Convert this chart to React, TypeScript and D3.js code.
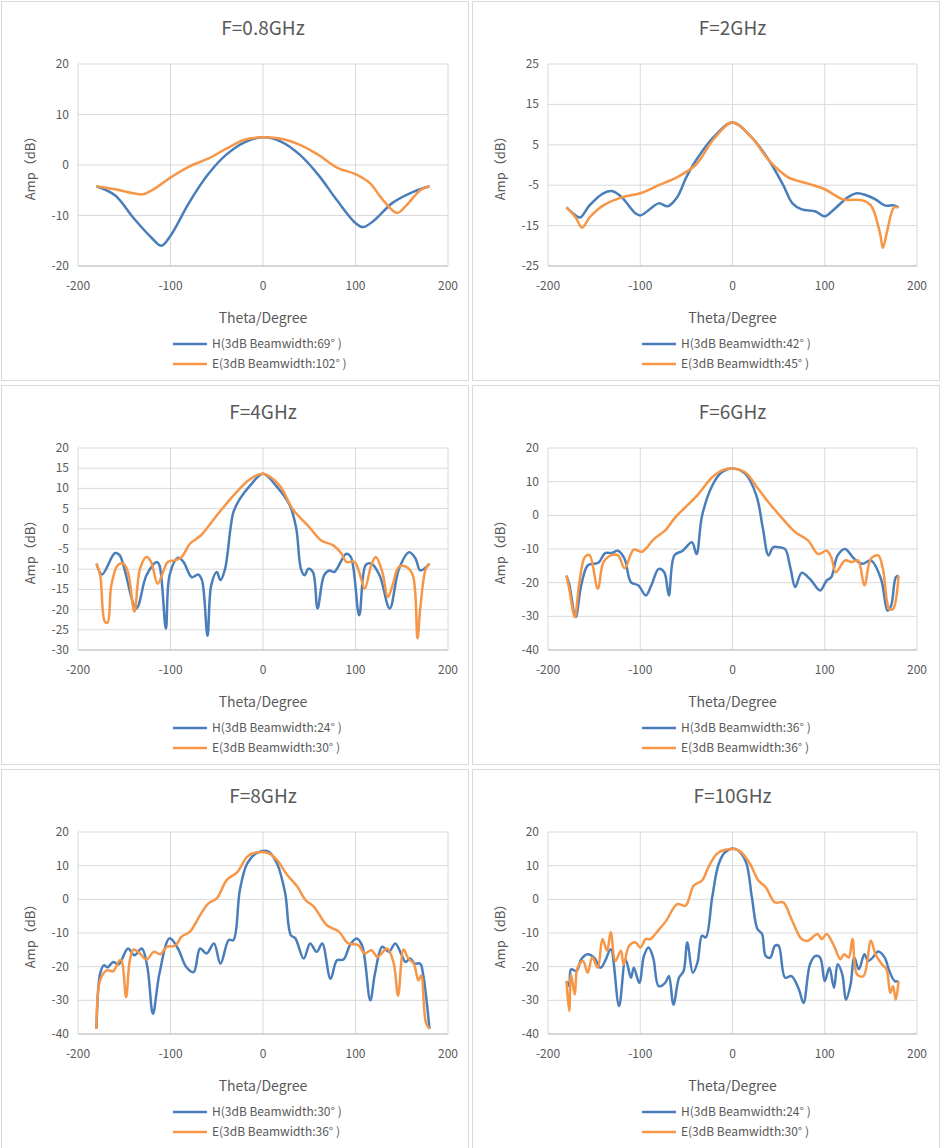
import * as d3 from 'd3'

type P = [number, number]

const titles = ['F=0.8GHz', 'F=2GHz', 'F=4GHz', 'F=6GHz', 'F=8GHz', 'F=10GHz']
const hWidths = [69, 42, 24, 36, 30, 24]
const eWidths = [102, 45, 30, 36, 36, 30]
const yDomains: P[] = [[-20, 20], [-25, 25], [-30, 20], [-40, 20], [-40, 20], [-40, 20]]
const yTicks = [
  [-20, -10, 0, 10, 20],
  [-25, -15, -5, 5, 15, 25],
  [-30, -25, -20, -15, -10, -5, 0, 5, 10, 15, 20],
  [-40, -30, -20, -10, 0, 10, 20],
  [-40, -30, -20, -10, 0, 10, 20],
  [-40, -30, -20, -10, 0, 10, 20],
]
const xTicks = [-200, -100, 0, 100, 200]

const h08: P[] = [[-180,-4.2],[-160,-6],[-140,-10.5],[-120,-14.5],[-110,-16],[-100,-14],[-80,-7.5],[-60,-2],[-40,2],[-20,4.5],[0,5.5],[20,4.6],[40,2],[60,-2],[80,-7],[100,-11.5],[108,-12.3],[120,-11],[140,-7.5],[160,-5.5],[180,-4.2]]
const e08: P[] = [[-180,-4.2],[-160,-4.8],[-140,-5.6],[-130,-5.8],[-120,-5],[-100,-2.5],[-80,-0.3],[-60,1.2],[-40,3.2],[-20,5],[0,5.5],[20,5.2],[40,4],[60,2],[80,-0.5],[100,-1.8],[115,-3.5],[130,-7],[145,-9.5],[155,-8],[170,-5],[180,-4.2]]

const h2: P[] = [[-180,-10.5],[-170,-12.5],[-165,-13],[-155,-10],[-140,-7],[-130,-6.5],[-120,-8],[-105,-12],[-100,-12.5],[-90,-11],[-80,-9.5],[-70,-10.2],[-60,-8],[-50,-3],[-40,1],[-20,7],[0,10.5],[20,7],[40,1],[55,-5],[65,-9.5],[75,-11],[90,-11.5],[100,-12.7],[110,-11],[125,-8],[135,-7],[145,-7.5],[155,-8.5],[165,-10],[175,-10],[180,-10.5]]
const e2: P[] = [[-180,-10.5],[-170,-13],[-163,-15.5],[-155,-13],[-140,-10],[-120,-8],[-100,-7],[-80,-5],[-60,-3],[-40,0],[-20,6.5],[0,10.5],[20,7],[40,1],[60,-3],[80,-4.5],[100,-6],[120,-8.5],[140,-8.7],[150,-10],[160,-17],[163,-20.5],[168,-16],[175,-10.5],[180,-10.5]]

const h4: P[] = [[-180,-8.6],[-174,-11.3],[-160,-6],[-155,-6.5],[-137,-19.7],[-126,-11.5],[-115,-8.2],[-112,-9],[-105,-24.7],[-101,-11.5],[-92,-7.2],[-86,-8.2],[-77,-12],[-70,-11.3],[-66,-12.7],[-60,-26.5],[-56,-14],[-50,-10.7],[-46,-12.7],[-41,-9.9],[-32,4.1],[-25,7.4],[-14,10.7],[0,13.6],[14,10.7],[29,5.8],[36,0],[41,-9.9],[45,-11.5],[49,-9.9],[54,-10.7],[59,-19.7],[66,-11.5],[72,-10.3],[77,-10.7],[90,-6.2],[95,-7],[104,-21.4],[111,-9],[117,-8.6],[126,-11.5],[137,-19.7],[147,-9.9],[158,-5.8],[165,-7.4],[170,-10.3],[180,-8.6]]
const e4: P[] = [[-180,-8.6],[-176,-11.5],[-171,-23],[-168,-23.2],[-164,-14],[-157,-9],[-151,-8.6],[-146,-10.7],[-139,-20.5],[-133,-9.9],[-126,-7],[-121,-8.2],[-114,-13.6],[-108,-10.7],[-103,-8.2],[-95,-7.8],[-88,-7],[-79,-3.7],[-67,-1.6],[-50,3.3],[-32,8.2],[-14,12.3],[0,13.6],[18,10.7],[32,4.9],[50,0.4],[63,-2.9],[76,-4.1],[85,-6.2],[90,-8.2],[99,-8.2],[104,-10.7],[110,-14.8],[117,-9],[122,-7],[129,-10.7],[135,-16.9],[140,-14],[147,-9.4],[155,-9.4],[162,-11.5],[167,-27.1],[170,-19.7],[176,-9.9],[180,-8.6]]

const h6: P[] = [[-180,-17.9],[-177,-20.4],[-170,-30.2],[-164,-20.8],[-157,-14.9],[-150,-14.4],[-145,-14],[-138,-11.2],[-131,-11.2],[-124,-10.5],[-117,-12.9],[-110,-19.9],[-102,-20.8],[-94,-23.8],[-88,-20.8],[-80,-15.9],[-74,-16.9],[-69,-23.8],[-63,-11.9],[-54,-10.5],[-44,-8],[-39,-11.5],[-33,-0.1],[-22,8.8],[-12,12.7],[0,13.9],[14,12.3],[26,5.8],[33,-4],[39,-11.9],[44,-9.5],[51,-9.5],[57,-10],[63,-15.9],[68,-21.3],[75,-17.1],[84,-18.9],[95,-22.3],[102,-19.4],[107,-18.4],[114,-11.9],[122,-10],[132,-12.9],[141,-14.4],[150,-13.4],[161,-18.9],[168,-28.3],[172,-26.8],[177,-18.4],[180,-17.9]]
const e6: P[] = [[-180,-17.9],[-177,-21.8],[-171,-30.2],[-166,-19.9],[-160,-12.4],[-155,-11.8],[-146,-21.8],[-140,-14],[-132,-11.9],[-124,-11.9],[-117,-15.7],[-107,-10.2],[-98,-10.8],[-85,-7],[-73,-4.5],[-62,-0.6],[-51,2.4],[-37,6.3],[-22,11.3],[-10,13.5],[0,13.9],[14,12.7],[28,7.8],[39,3.9],[53,-0.6],[68,-5],[82,-7.5],[93,-11.5],[102,-10.5],[107,-12.4],[112,-16.9],[122,-13.4],[129,-13.9],[136,-13.4],[143,-20.8],[150,-12.9],[158,-11.9],[163,-15.9],[170,-27.8],[174,-27.8],[180,-17.9]]

const h8: P[] = [[-180,-38.5],[-176,-22],[-172,-19.6],[-168,-20.2],[-162,-18.6],[-156,-19.3],[-146,-14.6],[-139,-16.6],[-131,-14.6],[-125,-20.1],[-119,-34],[-112,-22.1],[-101,-11.6],[-92,-14.6],[-83,-20.1],[-75,-21.6],[-68,-14.6],[-61,-16.1],[-53,-13.1],[-46,-19.1],[-37,-12.1],[-32,-12.1],[-25,2.8],[-17,10.7],[-6,13.9],[6,14.2],[15,10.7],[24,1.8],[30,-10.6],[35,-11.6],[44,-17.6],[51,-13.1],[58,-15.6],[64,-13.1],[73,-23.6],[80,-18.1],[87,-17.9],[94,-13.6],[101,-11.6],[107,-13.6],[116,-30],[121,-22.1],[129,-14.1],[136,-15.6],[143,-13.1],[150,-16.6],[154,-18.6],[159,-17.6],[164,-19.1],[170,-19.1],[173,-22.1],[180,-38.5]]
const e8: P[] = [[-180,-38.5],[-176,-24],[-169,-21.1],[-162,-21.3],[-155,-18.1],[-153,-18.1],[-148,-29],[-144,-18.1],[-140,-14.9],[-133,-16.1],[-126,-17.9],[-118,-15.6],[-111,-16.3],[-104,-14.1],[-95,-13.8],[-88,-11.1],[-79,-9.6],[-68,-4.7],[-59,-1.2],[-50,0.3],[-39,5.8],[-28,8],[-17,12.7],[-8,13.9],[6,13.7],[15,11.7],[26,7.3],[37,3.8],[46,-0.2],[55,-2.2],[69,-7.7],[82,-9.6],[92,-13.1],[103,-13.6],[110,-16.1],[117,-15.1],[124,-17.1],[134,-14.6],[141,-18.6],[146,-28.6],[152,-14.9],[157,-17.6],[163,-19.1],[168,-24.1],[171,-22.6],[176,-36.5],[180,-38.5]]

const h10: P[] = [[-180,-24.3],[-177,-25.8],[-175,-20.8],[-169,-21.3],[-164,-17.8],[-157,-16.3],[-150,-17.3],[-143,-20.3],[-138,-18.3],[-132,-14.8],[-123,-31.7],[-116,-17.8],[-110,-23.3],[-107,-20.3],[-101,-24.8],[-96,-16.8],[-91,-14.3],[-86,-17.3],[-80,-25.8],[-73,-24.8],[-69,-22.8],[-64,-31.3],[-58,-23.3],[-53,-21.3],[-49,-12.8],[-43,-21.8],[-38,-18.8],[-33,-10.8],[-29,-11.3],[-22,0.6],[-15,10.5],[-8,14],[3,15],[14,11.5],[21,0.6],[27,-8.8],[32,-10.3],[36,-16.8],[41,-17.3],[46,-13.8],[50,-13.8],[57,-23.3],[64,-22.8],[72,-26.8],[77,-30.8],[84,-19.3],[90,-16.8],[95,-17.3],[100,-24.3],[105,-20.3],[110,-26.3],[114,-19.3],[119,-22.3],[123,-29.8],[128,-25.3],[132,-17.3],[137,-20.8],[143,-16.3],[147,-18.3],[152,-17.3],[158,-15.5],[165,-17.3],[170,-21.3],[176,-24.3],[180,-24.3]]
const e10: P[] = [[-180,-24.3],[-177,-33.2],[-175,-22.3],[-171,-28.3],[-168,-20.3],[-162,-18.3],[-157,-21.8],[-152,-17.3],[-146,-20.3],[-141,-11.8],[-136,-15.3],[-132,-9.8],[-127,-18.3],[-121,-15.3],[-118,-19.3],[-112,-13.8],[-105,-12.8],[-100,-14.3],[-94,-11.8],[-89,-11.8],[-81,-9.4],[-72,-6.4],[-60,-1.4],[-51,-1.9],[-42,4.1],[-33,5.6],[-26,9.6],[-17,13.5],[-8,14.7],[7,14.5],[18,11],[28,5.6],[36,3.6],[46,-0.9],[55,-0.9],[64,-5.9],[75,-11.8],[82,-12.3],[92,-10.3],[97,-11.8],[102,-10.3],[110,-13.8],[117,-17.8],[121,-16.3],[126,-17.3],[130,-11.8],[135,-22.3],[142,-22.8],[150,-12.3],[155,-16.3],[162,-19.3],[167,-20.8],[171,-27.8],[174,-25.8],[177,-29.8],[180,-24.3]]

const hSeries = [h08, h2, h4, h6, h8, h10]
const eSeries = [e08, e2, e4, e6, e8, e10]

const BLUE = '#4a7ebb'
const ORANGE = '#f79646'
const TEXT = '#595959'
const GRID = '#d9d9d9'
const FONT = '"Noto Sans CJK SC", "Noto Sans", "DejaVu Sans", sans-serif'

const PW = 467
const PH = 379

function Panel({ i }: { i: number }) {
  const col = i % 2
  const row = Math.floor(i / 2)
  const ox = col === 0 ? 1 : 472
  const oy = 1 + row * 384
  const left = col === 0 ? 77 : 76
  const right = col === 0 ? 447 : 445
  const top = 63
  const bottom = 265
  const x = d3.scaleLinear().domain([-200, 200]).range([left, right])
  const y = d3.scaleLinear().domain(yDomains[i]).range([bottom, top])
  const line = d3
    .line<P>()
    .x((d) => x(d[0]))
    .y((d) => y(d[1]))
    .curve(d3.curveCatmullRom.alpha(0.5))
  const cx = (left + right) / 2
  const legendX = col === 0 ? 172 : 170
  return (
    <g transform={`translate(${ox},${oy})`} fontFamily={FONT}>
      <rect x={0.5} y={0.5} width={PW} height={PH} fill="#fff" stroke="#d9d9d9" />
      <text x={cx} y={34} textAnchor="middle" fontSize={19} fill={TEXT}>
        {titles[i]}
      </text>
      {yTicks[i].map((t) => (
        <g key={'y' + t}>
          <line x1={left} x2={right} y1={y(t)} y2={y(t)} stroke={GRID} />
          <text x={left - 9} y={y(t) + 4} textAnchor="end" fontSize={12} fill={TEXT}>
            {t}
          </text>
        </g>
      ))}
      {xTicks.map((t) => (
        <g key={'x' + t}>
          <line x1={x(t)} x2={x(t)} y1={top} y2={bottom} stroke={GRID} />
          <text x={x(t)} y={bottom + 24} textAnchor="middle" fontSize={12} fill={TEXT}>
            {t}
          </text>
        </g>
      ))}
      <line x1={left} x2={right} y1={bottom} y2={bottom} stroke="#bfbfbf" />
      <path d={line(hSeries[i]) || ''} fill="none" stroke={BLUE} strokeWidth={2.5} />
      <path d={line(eSeries[i]) || ''} fill="none" stroke={ORANGE} strokeWidth={2.5} />
      <text
        transform={`translate(${left - 43},${(top + bottom) / 2}) rotate(-90)`}
        textAnchor="middle"
        fontSize={13}
        fill={TEXT}
      >
        Amp（dB）
      </text>
      <text x={cx} y={322} textAnchor="middle" fontSize={14} fill={TEXT}>
        Theta/Degree
      </text>
      <line x1={legendX} x2={legendX + 34} y1={343} y2={343} stroke={BLUE} strokeWidth={2.5} />
      <text x={legendX + 39} y={347} fontSize={12} fill={TEXT}>
        {`H(3dB Beamwidth:${hWidths[i]}°  )`}
      </text>
      <line x1={legendX} x2={legendX + 34} y1={363} y2={363} stroke={ORANGE} strokeWidth={2.5} />
      <text x={legendX + 39} y={367} fontSize={12} fill={TEXT}>
        {`E(3dB Beamwidth:${eWidths[i]}°  )`}
      </text>
    </g>
  )
}

export default function App() {
  return (
    <svg
      width={940}
      height={1148}
      style={{ position: 'absolute', left: 0, top: 0, background: '#fff' }}
    >
      {titles.map((_, i) => (
        <Panel key={i} i={i} />
      ))}
    </svg>
  )
}
